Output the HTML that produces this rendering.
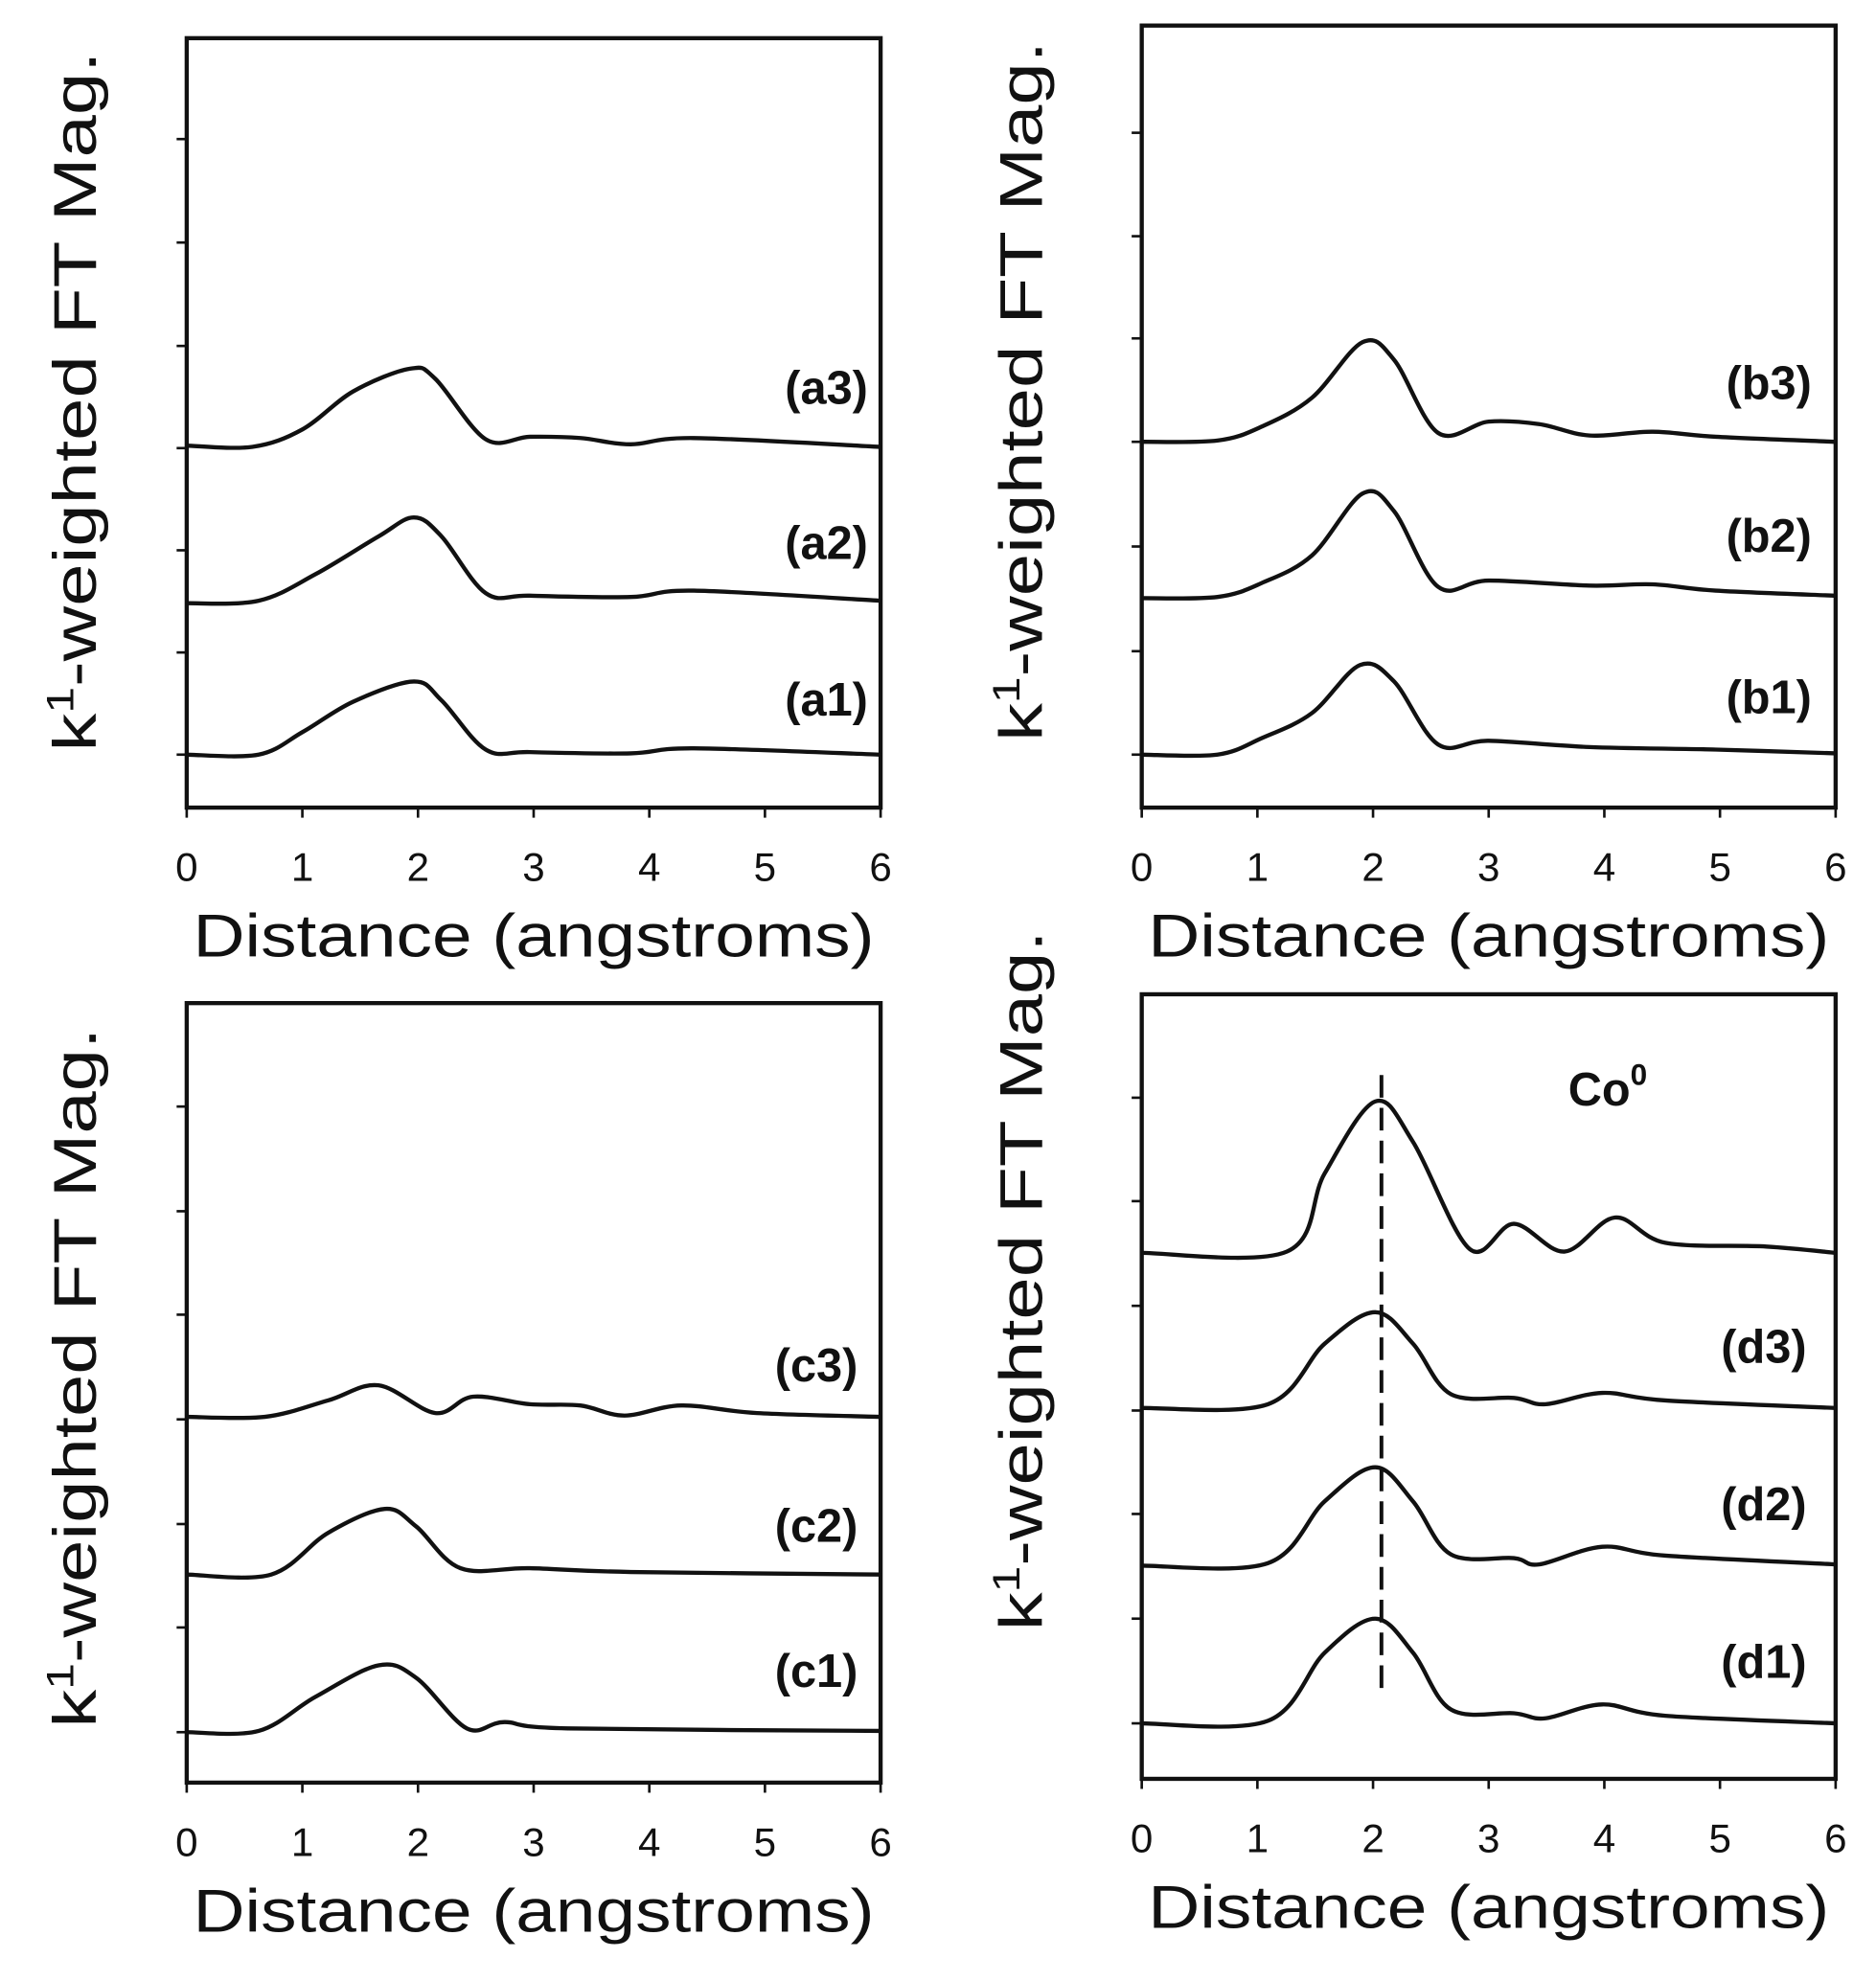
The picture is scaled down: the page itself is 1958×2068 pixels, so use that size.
<!DOCTYPE html>
<html><head><meta charset="utf-8">
<style>
html,body{margin:0;padding:0;background:#fff;}
svg{display:block;}
text{font-family:"Liberation Sans",Arial,sans-serif;fill:#111;}
.tk{font-size:32px;}
.ax{font-size:48px;}
.lb{font-size:37px;font-weight:bold;}
</style></head>
<body>
<svg id="s" width="1958" height="2068" viewBox="0 0 1487 1570" xmlns="http://www.w3.org/2000/svg">
<g id="g" fill="none" stroke="#111" stroke-width="3.3"></g>
<line x1="1095" y1="852" x2="1095" y2="1340" stroke="#111" stroke-width="3" stroke-dasharray="18,8"/>
<text class="lb" x="688" y="320" text-anchor="end">(a3)</text>
<text class="lb" x="688" y="443" text-anchor="end">(a2)</text>
<text class="lb" x="688" y="567" text-anchor="end">(a1)</text>
<text class="lb" x="1436" y="316" text-anchor="end">(b3)</text>
<text class="lb" x="1436" y="437" text-anchor="end">(b2)</text>
<text class="lb" x="1436" y="565" text-anchor="end">(b1)</text>
<text class="lb" x="680" y="1095" text-anchor="end">(c3)</text>
<text class="lb" x="680" y="1222" text-anchor="end">(c2)</text>
<text class="lb" x="680" y="1337" text-anchor="end">(c1)</text>
<text class="lb" x="1432" y="1080" text-anchor="end">(d3)</text>
<text class="lb" x="1432" y="1205" text-anchor="end">(d2)</text>
<text class="lb" x="1432" y="1330" text-anchor="end">(d1)</text>
<text class="lb" x="1243" y="876">Co<tspan font-size="24" dy="-16">0</tspan></text>
</svg>
<script>
var NS="http://www.w3.org/2000/svg",g=document.getElementById('g'),s=document.getElementById('s');
function el(t,a,p){var e=document.createElementNS(NS,t);for(var k in a)e.setAttribute(k,a[k]);(p||g).appendChild(e);return e;}
function txt(x,y,c,str,extra){var e=el('text',Object.assign({x:x,y:y,'class':c,'text-anchor':'middle'},extra||{}),s);e.textContent=str;return e;}
var panels=[
 {x0:148,x1:698,y0:30,y1:640,ticks:[110,192,274,355,436,517,598],lab:[60,318]},
 {x0:905,x1:1455,y0:20,y1:640,ticks:[105,187,268,350,433,516,598],lab:[810,310]},
 {x0:148,x1:698,y0:795,y1:1413,ticks:[877,960,1042,1125,1208,1290,1373],lab:[60,1092]},
 {x0:905,x1:1455,y0:788,y1:1410,ticks:[870,952,1035,1118,1200,1283,1366],lab:[810,1015]}];
panels.forEach(function(p){
 el('rect',{x:p.x0,y:p.y0,width:p.x1-p.x0,height:p.y1-p.y0});
 p.ticks.forEach(function(t){el('line',{x1:p.x0-8,y1:t,x2:p.x0,y2:t,'stroke-width':2});});
 for(var i=0;i<=6;i++){var x=p.x0+i*(p.x1-p.x0)/6;el('line',{x1:x,y1:p.y1,x2:x,y2:p.y1+8,'stroke-width':2});
  txt(x,p.y1+58,'tk',String(i));}
 txt((p.x0+p.x1)/2,p.y1+118,'ax','Distance (angstroms)',{textLength:540,lengthAdjust:'spacingAndGlyphs'});
 var t=el('text',{x:0,y:0,'class':'ax','text-anchor':'middle',textLength:555,lengthAdjust:'spacingAndGlyphs',transform:'translate('+(p.lab[0]+16)+','+p.lab[1]+') rotate(-90)'},s);
 t.innerHTML='k<tspan font-size="30" dy="-18">1</tspan><tspan dy="18">-weighted FT Mag.</tspan>';
});
var curves=[
[[148,598],[205,598],[240,580],[280,556],[328,540],[350,555],[385,594],[420,596],[500,597],[550,593],[698,598]],
[[148,478],[205,476],[250,455],[300,425],[328,410],[350,425],[385,470],[420,472],[500,473],[550,468],[698,476]],
[[148,353],[200,354],[240,340],[280,310],[325,292],[345,300],[385,348],[420,346],[460,347],[500,352],[550,347],[698,354]],
[[905,598],[965,598],[1000,585],[1040,565],[1078,527],[1105,540],[1140,590],[1180,587],[1260,592],[1360,594],[1455,597]],
[[905,474],[965,473],[1000,462],[1040,440],[1080,391],[1105,405],[1140,465],[1180,460],[1260,464],[1310,463],[1360,468],[1455,472]],
[[905,350],[965,349],[1000,338],[1040,315],[1080,271],[1105,285],[1140,343],[1180,334],[1220,336],[1260,345],[1310,342],[1360,346],[1455,350]],
[[148,1373],[205,1372],[250,1345],[300,1320],[330,1330],[370,1370],[400,1365],[450,1370],[698,1372]],
[[148,1248],[215,1248],[260,1215],[305,1196],[330,1210],[365,1243],[420,1243],[500,1246],[698,1248]],
[[148,1123],[210,1123],[260,1110],[300,1098],[345,1120],[375,1107],[420,1113],[460,1114],[495,1122],[540,1114],[600,1120],[698,1123]],
[[905,1366],[1005,1364],[1050,1310],[1090,1283],[1120,1310],[1150,1355],[1200,1358],[1225,1362],[1270,1351],[1320,1360],[1455,1366]],
[[905,1241],[1005,1239],[1050,1190],[1090,1163],[1120,1190],[1150,1232],[1200,1235],[1220,1240],[1270,1226],[1320,1233],[1455,1240]],
[[905,1116],[1005,1113],[1050,1065],[1090,1040],[1120,1065],[1150,1105],[1200,1108],[1225,1113],[1270,1104],[1320,1110],[1455,1116]],
[[905,993],[1020,992],[1050,930],[1090,873],[1120,905],[1165,990],[1200,970],[1240,992],[1280,965],[1320,985],[1400,988],[1455,993]]];
curves.forEach(function(P){
 var d='M'+P[0][0]+','+P[0][1];
 for(var i=0;i<P.length-1;i++){
  var p0=P[Math.max(0,i-1)],p1=P[i],p2=P[i+1],p3=P[Math.min(P.length-1,i+2)];
  var c1x=p1[0]+(p2[0]-p0[0])/6,c1y=p1[1]+(p2[1]-p0[1])/6,c2x=p2[0]-(p3[0]-p1[0])/6,c2y=p2[1]-(p3[1]-p1[1])/6;
  d+=' C'+c1x+','+c1y+' '+c2x+','+c2y+' '+p2[0]+','+p2[1];
 }
 el('path',{d:d});
});
</script>
</body></html>
